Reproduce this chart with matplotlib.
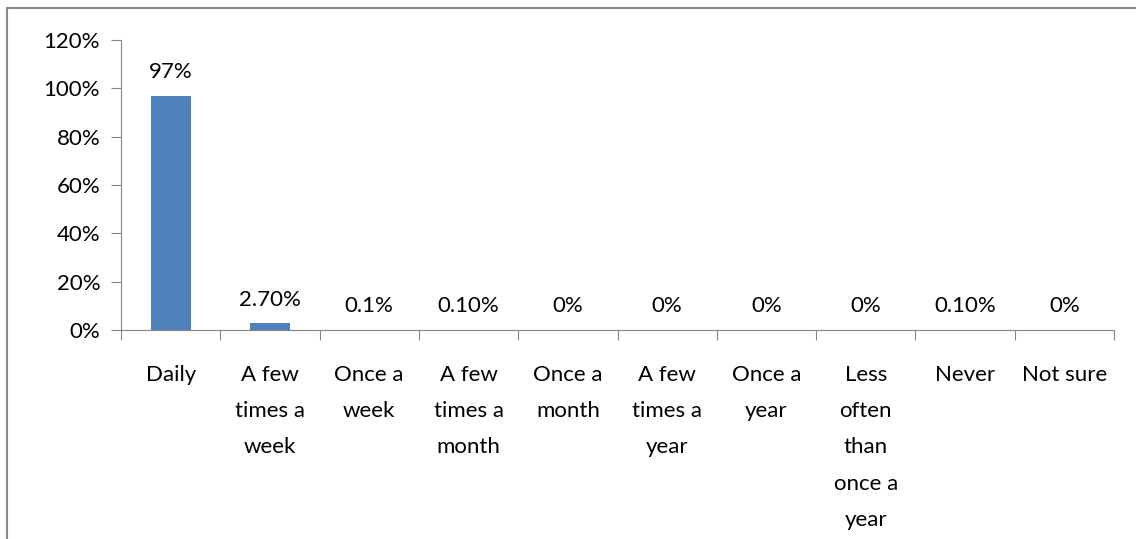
import matplotlib.pyplot as plt
from matplotlib.patches import Rectangle

categories = ["Daily", "A few\ntimes a\nweek", "Once a\nweek", "A few\ntimes a\nmonth",
              "Once a\nmonth", "A few\ntimes a\nyear", "Once a\nyear",
              "Less\noften\nthan\nonce a\nyear", "Never", "Not sure"]
values = [97, 2.7, 0.1, 0.1, 0, 0, 0, 0, 0.1, 0]
value_labels = ["97%", "2.70%", "0.1%", "0.10%", "0%", "0%", "0%", "0%", "0.10%", "0%"]
y_ticks = [0, 20, 40, 60, 80, 100, 120]

plt.rcParams['font.family'] = ['Lato', 'DejaVu Sans']
fig = plt.figure(figsize=(11.36, 5.39), dpi=100)
fig.patches.append(Rectangle((7 / 1136, -0.1), 1.2, 1.1 - 8 / 539, transform=fig.transFigure,
                             fill=False, edgecolor="#868686", linewidth=1.5))

ax = fig.add_axes([121 / 1136, 1 - 330 / 539, (1114 - 121) / 1136, (330 - 40) / 539])
x = list(range(len(categories)))
ax.bar(x, values, width=0.4, color="#4F81BD")
for xi, v, lab in zip(x, values, value_labels):
    ax.annotate(lab, (xi, v), xytext=(0, 10), textcoords="offset points",
                ha="center", va="bottom", fontsize=16)

ax.set_xlim(-0.5, len(categories) - 0.5)
ax.set_ylim(0, 120)
ax.set_yticks(y_ticks)
ax.set_yticklabels([f"{t}%" for t in y_ticks], fontsize=16)
ax.set_xticks([i - 0.5 for i in range(len(categories) + 1)])
ax.set_xticklabels([])
ax.set_xticks(x, minor=True)
ax.set_xticklabels(categories, minor=True, fontsize=16, linespacing=2.02, va="top")
ax.tick_params(axis="x", which="minor", length=0, pad=25)
ax.tick_params(axis="x", which="major", length=7, color="#868686", direction="out")
ax.tick_params(axis="y", length=7, color="#868686", pad=8)
for s in ["top", "right"]:
    ax.spines[s].set_visible(False)
for s in ["left", "bottom"]:
    ax.spines[s].set_color("#868686")

fig.savefig("out.png", dpi=100)
